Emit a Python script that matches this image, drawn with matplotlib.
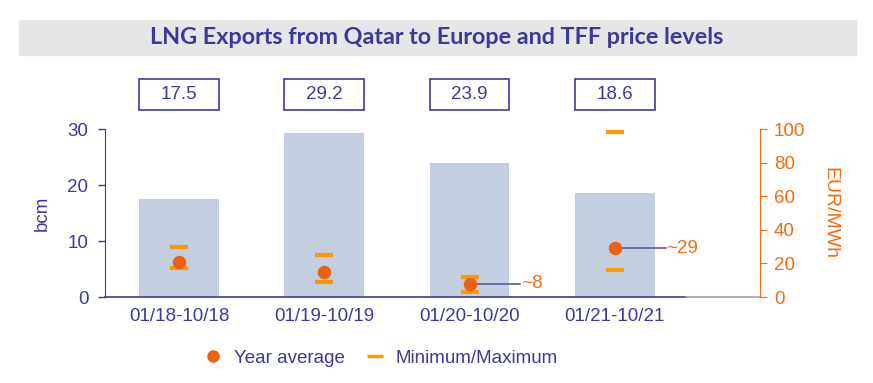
import numpy as np
import matplotlib.pyplot as plt
from matplotlib.patches import Rectangle
from matplotlib.lines import Line2D

# data
periods = ['01/18-10/18', '01/19-10/19', '01/20-10/20', '01/21-10/21']
exports_bcm = [17.5, 29.2, 23.9, 18.6]
tff_avg = [21, 15, 8, 29]
tff_min = [17.5, 9, 3, 16]
tff_max = [29.5, 25, 12, 98]
avg_labels = {2: '~8', 3: '~29'}

blue = '#3b3a9c'
orange = '#f26b0f'
dot_col = '#ec6112'
dash_col = '#ff9900'
bar_col = '#c3cee0'

plt.rcParams['font.family'] = ['Liberation Sans', 'DejaVu Sans']

fig = plt.figure(figsize=(8.73, 3.83), dpi=100)
ax = fig.add_axes([105/873, 1-297/383, 655/873, 168/383])
ax2 = ax.twinx()

x = np.arange(len(periods))
w = 0.55
ax.bar(x, exports_bcm, width=w, color=bar_col, zorder=1)
ax.set_xlim(-0.51, 4.0)
ax.set_ylim(0, 30)
ax.set_yticks([0, 10, 20, 30])
ax.set_xticks(x)
ax.set_xticklabels(periods)
ax.tick_params(axis='x', length=0, labelsize=13.5, colors=blue, pad=8)
ax.tick_params(axis='y', length=5, labelsize=13.5, colors=blue, width=1, pad=7)
ax.set_ylabel('bcm', color=blue, fontsize=13.5, labelpad=12)
for s in ['top', 'right', 'bottom']:
    ax.spines[s].set_visible(False)
ax.spines['left'].set_color(blue)
# bottom axis line: dark part, then a lighter stretch up to the right axis
ax.plot([-0.51, 3.49], [0, 0], color=blue, lw=1.2, clip_on=False, zorder=2)
ax.plot([3.49, 4.0], [0, 0], color='#9c9cd2', lw=1.2, clip_on=False, zorder=2)

# price markers on right axis
ax2.set_ylim(0, 100)
ax2.set_yticks([0, 20, 40, 60, 80, 100])
ax2.scatter(x, tff_max, marker='_', s=150, linewidths=3, color=dash_col, zorder=3)
ax2.scatter(x, tff_min, marker='_', s=150, linewidths=3, color=dash_col, zorder=3)
ax2.scatter(x, tff_avg, marker='o', s=75, color=dot_col, zorder=4)
for i, lab in avg_labels.items():
    ax2.plot([x[i], x[i] + 0.35], [tff_avg[i], tff_avg[i]], color='#5a5aa8', lw=1.2, zorder=2)
    ax2.text(x[i] + 0.355, tff_avg[i], lab, color=orange, fontsize=13.5, va='center', ha='left')
ax2.tick_params(axis='y', length=5, labelsize=13.5, colors=orange, pad=5)
ax2.set_ylabel('EUR/MWh', color=orange, fontsize=14, rotation=270, labelpad=24)
for s in ['top', 'left', 'bottom']:
    ax2.spines[s].set_visible(False)
ax2.spines['right'].set_color(orange)

# boxes with export values above the bars
for xi, v in zip(x, exports_bcm):
    ax.add_patch(Rectangle((xi - w/2, 1.113), w, 0.185, transform=ax.get_xaxis_transform(),
                           fill=False, edgecolor=blue, lw=1.2, clip_on=False))
    ax.text(xi, 1.205, f'{v:.1f}', transform=ax.get_xaxis_transform(), ha='center', va='center',
            fontsize=13.5, color=blue)

# title band
fig.patches.append(Rectangle((19/873, 1-55/383), 837/873, 35/383, transform=fig.transFigure,
                             color='#e6e6e6', zorder=0))
fig.text(0.5, 1-38/383, 'LNG Exports from Qatar to Europe and TFF price levels',
         ha='center', va='center', fontsize=16.8, fontweight='bold', color=blue,
         family=['Lato', 'DejaVu Sans'])

handles = [Line2D([], [], marker='o', ls='', color=dot_col, markersize=8),
           Line2D([], [], marker='_', ls='', color=dash_col, markersize=12, mew=2.5)]
fig.legend(handles, ['Year average', 'Minimum/Maximum'], loc='center', ncol=2,
           bbox_to_anchor=(380/873, 1-358/383), frameon=False, fontsize=13.5,
           labelcolor=blue, handletextpad=0.5, columnspacing=1.0, handlelength=1.2)

fig.savefig('out.png', dpi=100)
